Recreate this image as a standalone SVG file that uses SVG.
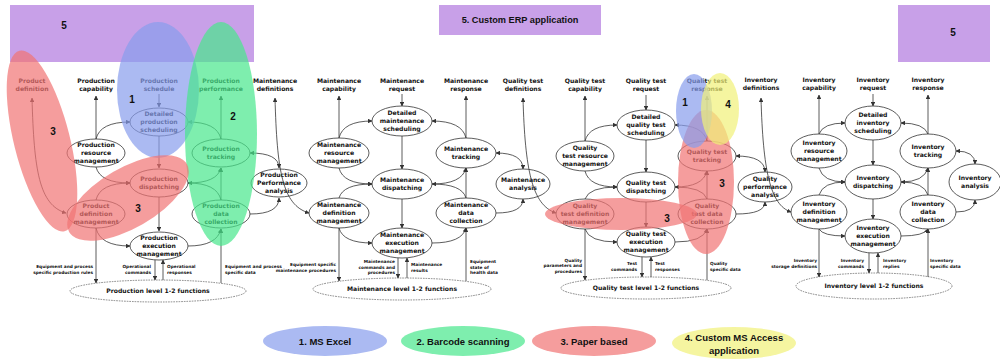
<svg xmlns="http://www.w3.org/2000/svg" width="1000" height="362" viewBox="0 0 1000 362">
<defs>
<marker id="ah" viewBox="0 0 10 10" refX="9" refY="5" markerWidth="4.5" markerHeight="4.5" markerUnits="userSpaceOnUse" orient="auto-start-reverse"><path d="M0,0 L10,5 L0,10 z" fill="#333"/></marker>
<style>
.n{fill:#fff;stroke:#333;stroke-width:.8}
.lv{fill:none;stroke:#555;stroke-width:.7;stroke-dasharray:1.6 1}
.t{font-family:"DejaVu Sans",Verdana,sans-serif;font-weight:bold;font-size:6.1px;text-anchor:middle;fill:#111}
.s{font-family:"DejaVu Sans",Verdana,sans-serif;font-weight:bold;font-size:4.3px;fill:#111}
.e{text-anchor:end}
.c{fill:none;stroke:#333;stroke-width:.8;marker-end:url(#ah)}
.b{marker-start:url(#ah)}
.nm{fill:none;stroke:#333;stroke-width:.8}
.k{font-family:"Liberation Sans",Arial,sans-serif;font-weight:bold;font-size:9.5px;text-anchor:middle;fill:#111}
.num{font-family:"Liberation Sans",Arial,sans-serif;font-weight:bold;font-size:10px;text-anchor:middle;fill:#111}
.pu{fill:#b680e0;fill-opacity:.75}
.bl{fill:#889cec;fill-opacity:.7}
.gr{fill:#47e78b;fill-opacity:.7}
.rd{fill:#f17474;fill-opacity:.7}
.ye{fill:#f1f177;fill-opacity:.7}
</style>
</defs>
<rect width="1000" height="362" fill="#fff"/>

<!-- top labels -->
<g id="labels">
<text class="t"><tspan x="32" y="82.5">Product</tspan><tspan x="32" y="90.5">definition</tspan></text>
<text class="t"><tspan x="96" y="82.5">Production</tspan><tspan x="96" y="90.5">capability</tspan></text>
<text class="t"><tspan x="159" y="82.5">Production</tspan><tspan x="159" y="90.5">schedule</tspan></text>
<text class="t"><tspan x="221" y="82.5">Production</tspan><tspan x="221" y="90.5">performance</tspan></text>
<text class="t"><tspan x="275" y="82.5">Maintenance</tspan><tspan x="275" y="90.5">definitions</tspan></text>
<text class="t"><tspan x="339" y="82.5">Maintenance</tspan><tspan x="339" y="90.5">capability</tspan></text>
<text class="t"><tspan x="402" y="82.5">Maintenance</tspan><tspan x="402" y="90.5">request</tspan></text>
<text class="t"><tspan x="466" y="82.5">Maintenance</tspan><tspan x="466" y="90.5">response</tspan></text>
<text class="t"><tspan x="523" y="82.5">Quality test</tspan><tspan x="523" y="90.5">definitions</tspan></text>
<text class="t"><tspan x="585" y="82.5">Quality test</tspan><tspan x="585" y="90.5">capability</tspan></text>
<text class="t"><tspan x="646" y="82.5">Quality test</tspan><tspan x="646" y="90.5">request</tspan></text>
<text class="t"><tspan x="707" y="82.5">Quality test</tspan><tspan x="707" y="90.5">response</tspan></text>
<text class="t"><tspan x="761" y="82">Inventory</tspan><tspan x="761" y="90">definitions</tspan></text>
<text class="t"><tspan x="819" y="82">Inventory</tspan><tspan x="819" y="90">capability</tspan></text>
<text class="t"><tspan x="873" y="82">Inventory</tspan><tspan x="873" y="90">request</tspan></text>
<text class="t"><tspan x="928" y="82">Inventory</tspan><tspan x="928" y="90">response</tspan></text>
</g>

<!-- Production nodes -->
<g id="p-sched"><ellipse class="n" cx="159" cy="122" rx="29" ry="14"/><text class="t"><tspan x="159" y="116.4">Detailed</tspan><tspan x="159" y="124.2">production</tspan><tspan x="159" y="132">scheduling</tspan></text></g>
<g id="p-res"><ellipse class="n" cx="96" cy="153" rx="29" ry="14"/><text class="t"><tspan x="96" y="147.4">Production</tspan><tspan x="96" y="155.2">resource</tspan><tspan x="96" y="163">management</tspan></text></g>
<g id="p-track"><ellipse class="n" cx="221" cy="153" rx="29" ry="14"/><text class="t"><tspan x="221" y="151.3">Production</tspan><tspan x="221" y="159.1">tracking</tspan></text></g>
<g id="p-disp"><ellipse class="n" cx="159" cy="183" rx="29" ry="14"/><text class="t"><tspan x="159" y="181.3">Production</tspan><tspan x="159" y="189.1">dispatching</tspan></text></g>
<g id="p-anal"><ellipse class="n" cx="279" cy="183" rx="28" ry="14"/><text class="t"><tspan x="279" y="177.4">Production</tspan><tspan x="279" y="185.2">Performance</tspan><tspan x="279" y="193">analysis</tspan></text></g>
<g id="p-defm"><ellipse class="n" cx="96" cy="214" rx="29" ry="14"/><text class="t"><tspan x="96" y="208.4">Product</tspan><tspan x="96" y="216.2">definition</tspan><tspan x="96" y="224">management</tspan></text></g>
<g id="p-data"><ellipse class="n" cx="221" cy="214" rx="29" ry="14"/><text class="t"><tspan x="221" y="208.4">Production</tspan><tspan x="221" y="216.2">data</tspan><tspan x="221" y="224">collection</tspan></text></g>
<g id="p-exec"><ellipse class="n" cx="159" cy="246" rx="29" ry="14"/><text class="t"><tspan x="159" y="240.4">Production</tspan><tspan x="159" y="248.2">execution</tspan><tspan x="159" y="256">management</tspan></text></g>
<g id="p-level"><ellipse class="lv" cx="158" cy="291" rx="88" ry="11"/><text class="t" x="158" y="293.2">Production level 1-2 functions</text></g>

<!-- Maintenance nodes -->
<g id="m-sched"><ellipse class="n" cx="402" cy="121" rx="30" ry="15"/><text class="t"><tspan x="402" y="115.4">Detailed</tspan><tspan x="402" y="123.2">maintenance</tspan><tspan x="402" y="131">scheduling</tspan></text></g>
<g id="m-res"><ellipse class="n" cx="339" cy="153" rx="30" ry="15"/><text class="t"><tspan x="339" y="147.4">Maintenance</tspan><tspan x="339" y="155.2">resource</tspan><tspan x="339" y="163">management</tspan></text></g>
<g id="m-track"><ellipse class="n" cx="466" cy="153" rx="30" ry="15"/><text class="t"><tspan x="466" y="151.3">Maintenance</tspan><tspan x="466" y="159.1">tracking</tspan></text></g>
<g id="m-disp"><ellipse class="n" cx="402" cy="184" rx="30" ry="15"/><text class="t"><tspan x="402" y="182.3">Maintenance</tspan><tspan x="402" y="190.1">dispatching</tspan></text></g>
<g id="m-anal"><ellipse class="n" cx="523" cy="184" rx="27" ry="15"/><text class="t"><tspan x="523" y="182.3">Maintenance</tspan><tspan x="523" y="190.1">analysis</tspan></text></g>
<g id="m-defm"><ellipse class="n" cx="339" cy="213" rx="30" ry="15"/><text class="t"><tspan x="339" y="207.4">Maintenance</tspan><tspan x="339" y="215.2">definition</tspan><tspan x="339" y="223">management</tspan></text></g>
<g id="m-data"><ellipse class="n" cx="466" cy="213" rx="30" ry="15"/><text class="t"><tspan x="466" y="207.4">Maintenance</tspan><tspan x="466" y="215.2">data</tspan><tspan x="466" y="223">collection</tspan></text></g>
<g id="m-exec"><ellipse class="n" cx="402" cy="243" rx="30" ry="15"/><text class="t"><tspan x="402" y="237.4">Maintenance</tspan><tspan x="402" y="245.2">execution</tspan><tspan x="402" y="253">management</tspan></text></g>
<g id="m-level"><ellipse class="lv" cx="402" cy="289" rx="89" ry="11"/><text class="t" x="402" y="291.2">Maintenance level 1-2 functions</text></g>

<!-- Quality nodes -->
<g id="q-sched"><ellipse class="n" cx="646" cy="125" rx="29" ry="15"/><text class="t"><tspan x="646" y="119.4">Detailed</tspan><tspan x="646" y="127.2">quality test</tspan><tspan x="646" y="135">scheduling</tspan></text></g>
<g id="q-res"><ellipse class="n" cx="585" cy="156" rx="29" ry="15"/><text class="t"><tspan x="585" y="150.4">Quality</tspan><tspan x="585" y="158.2">test resource</tspan><tspan x="585" y="166">management</tspan></text></g>
<g id="q-track"><ellipse class="n" cx="707" cy="156" rx="29" ry="15"/><text class="t"><tspan x="707" y="154.3">Quality test</tspan><tspan x="707" y="162.1">tracking</tspan></text></g>
<g id="q-disp"><ellipse class="n" cx="646" cy="187" rx="29" ry="15"/><text class="t"><tspan x="646" y="185.3">Quality test</tspan><tspan x="646" y="193.1">dispatching</tspan></text></g>
<g id="q-anal"><ellipse class="n" cx="765" cy="187" rx="27" ry="15"/><text class="t"><tspan x="765" y="181.4">Quality</tspan><tspan x="765" y="189.2">performance</tspan><tspan x="765" y="197">analysis</tspan></text></g>
<g id="q-defm"><ellipse class="n" cx="585" cy="214" rx="29" ry="15"/><text class="t"><tspan x="585" y="208.4">Quality</tspan><tspan x="585" y="216.2">test definition</tspan><tspan x="585" y="224">management</tspan></text></g>
<g id="q-data"><ellipse class="n" cx="707" cy="214" rx="29" ry="15"/><text class="t"><tspan x="707" y="208.4">Quality</tspan><tspan x="707" y="216.2">test data</tspan><tspan x="707" y="224">collection</tspan></text></g>
<g id="q-exec"><ellipse class="n" cx="646" cy="242" rx="29" ry="15"/><text class="t"><tspan x="646" y="236.4">Quality test</tspan><tspan x="646" y="244.2">execution</tspan><tspan x="646" y="252">management</tspan></text></g>
<g id="q-level"><ellipse class="lv" cx="646" cy="288" rx="85" ry="11"/><text class="t" x="646" y="290.2">Quality test level 1-2 functions</text></g>

<!-- Inventory nodes -->
<g id="i-sched"><ellipse class="n" cx="873" cy="123" rx="28" ry="17"/><text class="t"><tspan x="873" y="117.4">Detailed</tspan><tspan x="873" y="125.2">inventory</tspan><tspan x="873" y="133">scheduling</tspan></text></g>
<g id="i-res"><ellipse class="n" cx="819" cy="151" rx="28" ry="17"/><text class="t"><tspan x="819" y="145.4">Inventory</tspan><tspan x="819" y="153.2">resource</tspan><tspan x="819" y="161">management</tspan></text></g>
<g id="i-track"><ellipse class="n" cx="928" cy="151" rx="28" ry="17"/><text class="t"><tspan x="928" y="149.3">Inventory</tspan><tspan x="928" y="157.1">tracking</tspan></text></g>
<g id="i-disp"><ellipse class="n" cx="873" cy="182" rx="28" ry="17"/><text class="t"><tspan x="873" y="180.3">Inventory</tspan><tspan x="873" y="188.1">dispatching</tspan></text></g>
<g id="i-anal"><ellipse class="n" cx="975" cy="182" rx="26" ry="18"/><text class="t"><tspan x="975" y="180.3">Inventory</tspan><tspan x="975" y="188.1">analysis</tspan></text></g>
<g id="i-defm"><ellipse class="n" cx="819" cy="212" rx="28" ry="17"/><text class="t"><tspan x="819" y="206.4">Inventory</tspan><tspan x="819" y="214.2">definition</tspan><tspan x="819" y="222">management</tspan></text></g>
<g id="i-data"><ellipse class="n" cx="928" cy="212" rx="28" ry="17"/><text class="t"><tspan x="928" y="206.4">Inventory</tspan><tspan x="928" y="214.2">data</tspan><tspan x="928" y="222">collection</tspan></text></g>
<g id="i-exec"><ellipse class="n" cx="873" cy="236" rx="28" ry="17"/><text class="t"><tspan x="873" y="230.4">Inventory</tspan><tspan x="873" y="238.2">execution</tspan><tspan x="873" y="246">management</tspan></text></g>
<g id="i-level"><ellipse class="lv" cx="874" cy="286" rx="78" ry="13"/><text class="t" x="874" y="288.2">Inventory level 1-2 functions</text></g>

<!-- small flow labels -->
<g id="flow-labels">
<text class="s e"><tspan x="93" y="267.5">Equipment and process</tspan><tspan x="93" y="273.5">specific production rules</tspan></text>
<text class="s e"><tspan x="151" y="267.5">Operational</tspan><tspan x="151" y="273.5">commands</tspan></text>
<text class="s"><tspan x="167" y="267.5">Operational</tspan><tspan x="167" y="273.5">responses</tspan></text>
<text class="s"><tspan x="225" y="267.5">Equipment and process</tspan><tspan x="225" y="273.5">specific data</tspan></text>
<text class="s e"><tspan x="336" y="265.5">Equipment specific</tspan><tspan x="336" y="271.5">maintenance procedures</tspan></text>
<text class="s e"><tspan x="395" y="263">Maintenance</tspan><tspan x="395" y="268.5">commands and</tspan><tspan x="395" y="274">procedures</tspan></text>
<text class="s"><tspan x="411" y="265.5">Maintenance</tspan><tspan x="411" y="271.5">results</tspan></text>
<text class="s"><tspan x="470" y="263">Equipment</tspan><tspan x="470" y="268.5">state of</tspan><tspan x="470" y="274">health data</tspan></text>
<text class="s e"><tspan x="582" y="261.5">Quality</tspan><tspan x="582" y="267">parameters and</tspan><tspan x="582" y="272.5">procedures</tspan></text>
<text class="s e"><tspan x="637" y="264.5">Test</tspan><tspan x="637" y="270.5">commands</tspan></text>
<text class="s"><tspan x="655" y="264.5">Test</tspan><tspan x="655" y="270.5">responses</tspan></text>
<text class="s"><tspan x="710" y="264.5">Quality</tspan><tspan x="710" y="270.5">specific data</tspan></text>
<text class="s e"><tspan x="817" y="261.5">Inventory</tspan><tspan x="817" y="267.5">storage definitions</tspan></text>
<text class="s e"><tspan x="864" y="261.5">Inventory</tspan><tspan x="864" y="267.5">commands</tspan></text>
<text class="s"><tspan x="883" y="261.5">Inventory</tspan><tspan x="883" y="267.5">replies</tspan></text>
<text class="s"><tspan x="930" y="261.5">Inventory</tspan><tspan x="930" y="267.5">specific data</tspan></text>
</g>

<g id="connectors">
<!-- Production -->
<path class="c" d="M96,139 L96,96"/>
<path class="c" d="M159,94 L159,107"/>
<path class="c" d="M221,139 L221,96"/>
<path class="c" d="M96,139 Q100,122 130,122"/>
<path class="c" d="M221,139 Q217,122 188,122"/>
<path class="c" d="M159,136 L159,168"/>
<path class="c" d="M96,167 Q100,183 130,183"/>
<path class="c" d="M96,200 Q100,183 130,183"/>
<path class="c" d="M188,183 Q217,183 221,168"/>
<path class="c" d="M221,200 Q217,183 188,183"/>
<path class="c" d="M221,200 L221,168"/>
<path class="c b" d="M250,153 Q279,153 279,168"/>
<path class="c" d="M250,214 Q279,214 279,198"/>
<path class="c" d="M159,197 L159,231"/>
<path class="c" d="M96,228 Q100,246 130,246"/>
<path class="c" d="M188,246 Q217,246 221,229"/>
<path class="c" d="M96,228 L96,283"/>
<path class="c" d="M155,260 L155,280"/>
<path class="c" d="M163,280 L163,260"/>
<path class="c" d="M221,283 L221,229"/>
<path class="c b" d="M32,98 C34,170 39,205 66,213"/>
<!-- Maintenance -->
<path class="c" d="M339,138 L339,96"/>
<path class="c" d="M402,94 L402,106"/>
<path class="c" d="M466,138 L466,96"/>
<path class="c" d="M339,138 Q343,121 372,121"/>
<path class="c" d="M466,138 Q462,121 432,121"/>
<path class="c" d="M402,136 L402,169"/>
<path class="c" d="M339,168 Q343,184 372,184"/>
<path class="c" d="M339,198 Q343,184 372,184"/>
<path class="c" d="M432,184 Q462,184 466,168"/>
<path class="c" d="M466,198 Q462,184 432,184"/>
<path class="c" d="M466,198 L466,168"/>
<path class="c b" d="M496,153 Q523,153 523,169"/>
<path class="c" d="M496,213 Q523,213 523,199"/>
<path class="c" d="M402,199 L402,228"/>
<path class="c" d="M339,228 Q343,243 372,243"/>
<path class="c" d="M432,243 Q462,243 466,228"/>
<path class="c" d="M339,228 L339,281"/>
<path class="c" d="M398,258 L398,278"/>
<path class="c" d="M407,278 L407,258"/>
<path class="c" d="M466,281 L466,228"/>
<path class="c b" d="M275,98 C277,170 282,205 309,213"/>
<!-- Quality -->
<path class="c" d="M585,141 L585,96"/>
<path class="c" d="M646,95 L646,110"/>
<path class="c" d="M707,141 L707,96"/>
<path class="c" d="M585,141 Q589,125 617,125"/>
<path class="c" d="M707,141 Q703,125 675,125"/>
<path class="c" d="M646,140 L646,172"/>
<path class="c" d="M585,171 Q589,187 617,187"/>
<path class="c" d="M585,199 Q589,187 617,187"/>
<path class="c" d="M675,187 Q703,187 707,171"/>
<path class="c" d="M707,199 Q703,187 675,187"/>
<path class="c" d="M707,199 L707,171"/>
<path class="c b" d="M736,156 Q765,156 765,172"/>
<path class="c" d="M736,214 Q765,214 765,202"/>
<path class="c" d="M646,202 L646,227"/>
<path class="c" d="M585,229 Q589,242 617,242"/>
<path class="c" d="M675,242 Q703,242 707,229"/>
<path class="c" d="M585,229 L585,280"/>
<path class="c" d="M642,257 L642,277"/>
<path class="c" d="M651,277 L651,257"/>
<path class="c" d="M707,280 L707,229"/>
<path class="c b" d="M523,98 C525,170 532,205 556,213"/>
<!-- Inventory -->
<path class="c" d="M819,134 L819,95"/>
<path class="c" d="M873,94 L873,106"/>
<path class="c" d="M928,134 L928,95"/>
<path class="c" d="M819,134 Q823,123 845,123"/>
<path class="c" d="M928,134 Q924,123 901,123"/>
<path class="c" d="M873,140 L873,165"/>
<path class="c" d="M819,168 Q823,182 845,182"/>
<path class="c" d="M819,195 Q823,182 845,182"/>
<path class="c" d="M901,182 Q924,182 928,168"/>
<path class="c" d="M928,195 Q924,182 901,182"/>
<path class="c" d="M928,195 L928,168"/>
<path class="c b" d="M956,151 Q975,151 975,164"/>
<path class="c" d="M956,212 Q975,212 975,200"/>
<path class="c" d="M873,199 L873,219"/>
<path class="c" d="M819,229 Q823,236 845,236"/>
<path class="c" d="M901,236 Q924,236 928,229"/>
<path class="c" d="M819,229 L819,277"/>
<path class="c" d="M869,253 L869,273"/>
<path class="c" d="M878,273 L878,253"/>
<path class="c" d="M928,277 L928,229"/>
<path class="c b" d="M761,98 C763,170 770,205 791,212"/>
</g>

<!-- tool overlays -->
<g id="overlays">
<rect class="pu" x="10" y="5" width="244" height="57"/>
<rect class="pu" x="439" y="5" width="162" height="30"/>
<rect class="pu" x="898" y="5" width="92" height="57"/>
<ellipse class="bl" cx="158" cy="90" rx="41" ry="68"/>
<ellipse class="gr" cx="221" cy="134" rx="36" ry="112"/>
<ellipse class="rd" cx="42" cy="141" rx="28" ry="93" transform="rotate(-14 42 141)"/>
<ellipse class="rd" cx="128" cy="198" rx="68" ry="30" transform="rotate(-30 128 198)"/>
<ellipse class="rd" cx="621" cy="214" rx="76" ry="16"/>
<ellipse class="rd" cx="706" cy="182" rx="28" ry="72"/>
<ellipse class="bl" cx="694" cy="111" rx="18" ry="37"/>
<ellipse class="ye" cx="720" cy="109" rx="19" ry="36"/>
<text class="num" x="64" y="28.5">5</text>
<text class="num" x="953" y="35.5">5</text>
<text class="k" x="520" y="23" style="font-size:9.2px">5. Custom ERP application</text>
<text class="num" x="132" y="102.5">1</text>
<text class="num" x="233" y="119.5">2</text>
<text class="num" x="53" y="135">3</text>
<text class="num" x="138" y="211.5">3</text>
<text class="num" x="685" y="106">1</text>
<text class="num" x="728" y="107.5">4</text>
<text class="num" x="722" y="187">3</text>
<text class="num" x="667" y="222">3</text>
</g>

<!-- legend -->
<g id="legend-excel"><ellipse class="bl" cx="325" cy="341" rx="62" ry="15"/><text class="k" x="325" y="344.5">1. MS Excel</text></g>
<g id="legend-barcode"><ellipse class="gr" cx="463" cy="341" rx="62" ry="15"/><text class="k" x="463" y="344.5">2. Barcode scanning</text></g>
<g id="legend-paper"><ellipse class="rd" cx="594" cy="341" rx="62" ry="15"/><text class="k" x="594" y="344.5">3. Paper based</text></g>
<g id="legend-access"><ellipse class="ye" cx="734" cy="343" rx="62" ry="16"/><text class="k"><tspan x="734" y="341">4. Custom MS Access</tspan><tspan x="734" y="353.5">application</tspan></text></g>
</svg>
